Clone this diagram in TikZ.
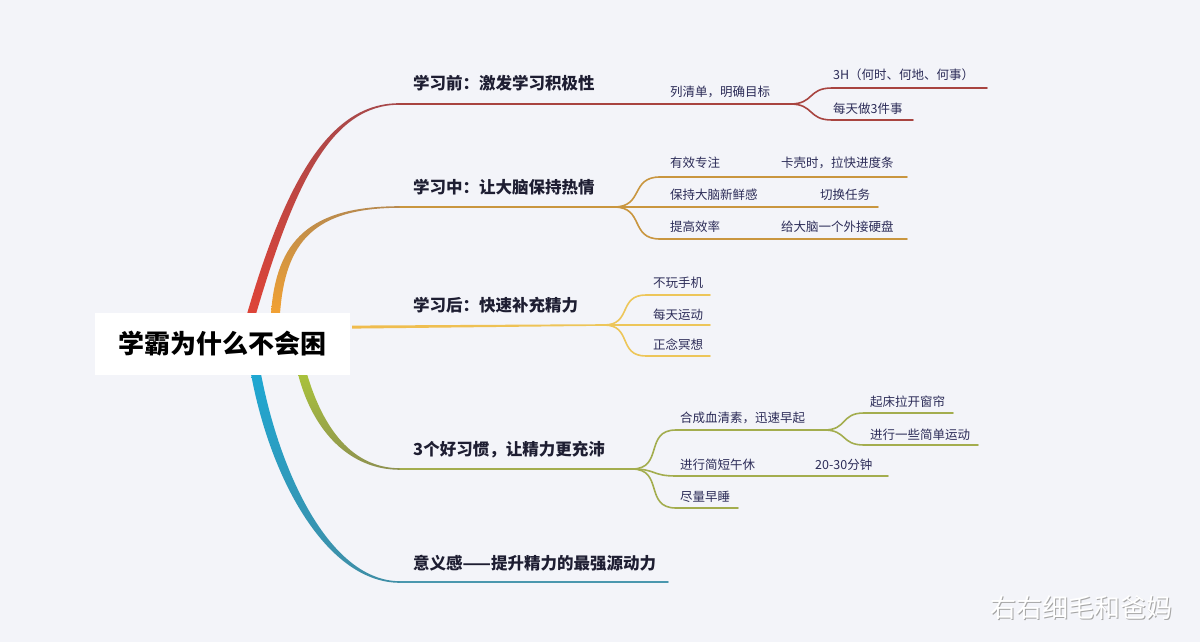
\documentclass[tikz,border=0pt]{standalone}
\usepackage{fontspec}
\setmainfont{Noto Sans CJK SC}
\usetikzlibrary{calc}
\definecolor{bg}{HTML}{F3F4F9}
\definecolor{redA}{HTML}{DE4438}
\definecolor{redB}{HTML}{A8484A}
\definecolor{redL}{HTML}{A84440}
\definecolor{orA}{HTML}{F2A133}
\definecolor{orB}{HTML}{B88A4E}
\definecolor{orL}{HTML}{C9963F}
\definecolor{yeL}{HTML}{EDC65A}
\definecolor{grA}{HTML}{A9C23C}
\definecolor{grB}{HTML}{8E9250}
\definecolor{grL}{HTML}{A3AD4E}
\definecolor{teA}{HTML}{1FA7D2}
\definecolor{teB}{HTML}{3F8EA6}
\definecolor{teL}{HTML}{4A97AE}
\definecolor{txt}{HTML}{1E1E32}
\definecolor{subtxt}{HTML}{2C2C58}
\tikzset{
  topic/.style={anchor=west,inner sep=0pt,text=txt,font=\fontsize{16.5}{20}\selectfont\bfseries},
  leaf/.style={anchor=west,inner sep=0pt,text=subtxt,font=\fontsize{12.5}{15}\selectfont},
  wire/.style={line width=1.6pt,line cap=round},
}
\newcommand{\forkto}[3]{% color, from, to
  \draw[wire,#1] (#2) to[out=0,in=180,looseness=1.4] (#3);}
\begin{document}
\begin{tikzpicture}[x=1pt,y=-1pt]
\useasboundingbox (0,0) rectangle (1200,642);
\fill[bg] (0,0) rectangle (1200,642);

% ---------- coordinates ----------
\coordinate (redE) at (399,104);
\coordinate (redF) at (790,104);
\coordinate (redU0) at (832,88);  \coordinate (redU1) at (987,88);
\coordinate (redD0) at (832,120); \coordinate (redD1) at (913,120);

\coordinate (orE) at (400,207);
\coordinate (orF) at (614,207);
\coordinate (orA0) at (660,177); \coordinate (orA1) at (907,177);
\coordinate (orB1) at (878,207);
\coordinate (orC0) at (660,239); \coordinate (orC1) at (907,239);

\coordinate (yeF) at (604,325);
\coordinate (yeA0) at (646,295); \coordinate (yeA1) at (710,295);
\coordinate (yeB1) at (710,325);
\coordinate (yeC0) at (646,356); \coordinate (yeC1) at (710,356);

\coordinate (grE) at (400,469);
\coordinate (grF) at (632,469);
\coordinate (grA0) at (676,430); \coordinate (grAF) at (824,430);
\coordinate (grAU0) at (864,413); \coordinate (grAU1) at (953,413);
\coordinate (grAD0) at (864,445); \coordinate (grAD1) at (978,445);
\coordinate (grB0) at (676,476); \coordinate (grB1) at (888,476);
\coordinate (grC0) at (676,508); \coordinate (grC1) at (738,508);

\coordinate (teE) at (400,582);
\coordinate (teF) at (668,582);

% ---------- main tapered branches ----------
\shade[top color=redB,bottom color=redA]
  (247,314) .. controls (286,180) and (330,103.2) .. (399,103.2)
  -- (399,104.8) .. controls (332,104.8) and (295,182) .. (256,314) -- cycle;
\shade[top color=orB,bottom color=orA]
  (271,314) .. controls (276,240) and (310,206.2) .. (400,206.2)
  -- (400,207.8) .. controls (314,207.8) and (285,242) .. (280,314) -- cycle;
\shade[left color=yeL!85!orange,right color=yeL]
  (352,325.6) -- (604,324.2) -- (604,325.8) -- (352,328.6) -- cycle;
\shade[top color=grA,bottom color=grB]
  (298,374) .. controls (313,432) and (350,469.8) .. (400,469.8)
  -- (400,468.2) .. controls (352,468.2) and (323,428) .. (307,374) -- cycle;
\shade[top color=teA,bottom color=teB]
  (251,374) .. controls (271,482) and (328,582.8) .. (400,582.8)
  -- (400,581.2) .. controls (332,581.2) and (281,478) .. (261,374) -- cycle;

% ---------- horizontal lines and forks ----------
\draw[wire,redL] (redE) -- (redF);
\forkto{redL}{redF}{redU0} \draw[wire,redL] (redU0) -- (redU1);
\forkto{redL}{redF}{redD0} \draw[wire,redL] (redD0) -- (redD1);

\draw[wire,orL] (orE) -- (orF);
\forkto{orL}{orF}{orA0} \draw[wire,orL] (orA0) -- (orA1);
\draw[wire,orL] (orF) -- (orB1);
\forkto{orL}{orF}{orC0} \draw[wire,orL] (orC0) -- (orC1);

\forkto{yeL}{yeF}{yeA0} \draw[wire,yeL] (yeA0) -- (yeA1);
\draw[wire,yeL] (yeF) -- (yeB1);
\forkto{yeL}{yeF}{yeC0} \draw[wire,yeL] (yeC0) -- (yeC1);

\draw[wire,grL] (grE) -- (grF);
\forkto{grL}{grF}{grA0} \draw[wire,grL] (grA0) -- (grAF);
\forkto{grL}{grAF}{grAU0} \draw[wire,grL] (grAU0) -- (grAU1);
\forkto{grL}{grAF}{grAD0} \draw[wire,grL] (grAD0) -- (grAD1);
\forkto{grL}{grF}{grB0} \draw[wire,grL] (grB0) -- (grB1);
\forkto{grL}{grF}{grC0} \draw[wire,grL] (grC0) -- (grC1);

\draw[wire,teL] (teE) -- (teF);

% ---------- central node ----------
\node[fill=white,minimum width=255pt,minimum height=62pt,inner sep=0pt,
      font=\fontsize{26}{30}\selectfont\bfseries,text=black] (root) at (222.5,344) {学霸为什么不会困};

% ---------- texts ----------
\node[topic] (t1) at (413,83) {学习前：激发学习积极性};
\node[leaf] (t1a) at (670,92) {列清单，明确目标};
\node[leaf] (t1a1) at (833,75) {3H（何时、何地、何事）};
\node[leaf] (t1a2) at (833,109) {每天做3件事};

\node[topic] (t2) at (413,187) {学习中：让大脑保持热情};
\node[leaf] (t2a) at (670,163) {有效专注};
\node[leaf] (t2a1) at (781,163) {卡壳时，拉快进度条};
\node[leaf] (t2b) at (670,195) {保持大脑新鲜感};
\node[leaf] (t2b1) at (820,195) {切换任务};
\node[leaf] (t2c) at (670,227) {提高效率};
\node[leaf] (t2c1) at (781,227) {给大脑一个外接硬盘};

\node[topic] (t3) at (413,305) {学习后：快速补充精力};
\node[leaf] (t3a) at (653,283) {不玩手机};
\node[leaf] (t3b) at (653,315) {每天运动};
\node[leaf] (t3c) at (653,345) {正念冥想};

\node[topic] (t4) at (413,450) {3个好习惯，让精力更充沛};
\node[leaf] (t4a) at (680,418) {合成血清素，迅速早起};
\node[leaf] (t4a1) at (870,402) {起床拉开窗帘};
\node[leaf] (t4a2) at (870,435) {进行一些简单运动};
\node[leaf] (t4b) at (680,465) {进行简短午休};
\node[leaf] (t4b1) at (815,465) {20-30分钟};
\node[leaf] (t4c) at (680,497) {尽量早睡};

\node[topic] (t5) at (413,563) {意义感——提升精力的最强源动力};

% ---------- watermark ----------
\node[anchor=west,inner sep=0pt,text=black!35,font=\fontsize{26}{30}\selectfont] (wms) at (990.8,608.8) {右右细毛和爸妈};
\node[anchor=west,inner sep=0pt,text=white,font=\fontsize{26}{30}\selectfont] (wm) at (990,608) {右右细毛和爸妈};
\end{tikzpicture}
\end{document}
